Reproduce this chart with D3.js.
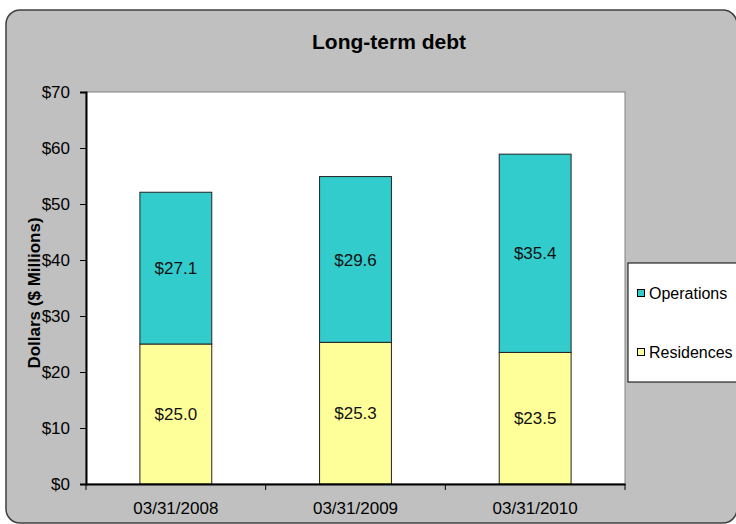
<!DOCTYPE html>
<html>
<head>
<meta charset="utf-8">
<script src="https://cdn.jsdelivr.net/npm/d3@7"></script>
<style>
  body { margin: 0; background: #fff; }
  svg { display: block; font-family: "Liberation Sans", Arial, sans-serif; }
</style>
</head>
<body>
<div id="chart"></div>
<script>
const dates = ["03/31/2008", "03/31/2009", "03/31/2010"];
const residences = [25.0, 25.3, 23.5];
const operations = [27.1, 29.6, 35.4];
const seriesNames = ["Residences", "Operations"];
const yTicks = [0, 10, 20, 30, 40, 50, 60, 70];

const width = 736;
const height = 524;
const margin = { top: 92, right: 111, bottom: 40, left: 86 };
const colors = { Residences: "#FFFF99", Operations: "#33CCCC" };

const rows = dates.map((d, i) => ({ date: d, Residences: residences[i], Operations: operations[i] }));

const svg = d3.select("#chart").append("svg").attr("width", width).attr("height", height);

// outer frame
svg.append("rect")
  .attr("x", 6).attr("y", 10)
  .attr("width", 731).attr("height", 513)
  .attr("rx", 14)
  .attr("fill", "#C0C0C0")
  .attr("stroke", "#404040")
  .attr("stroke-width", 1.5);

svg.append("text")
  .attr("x", 389).attr("y", 49)
  .attr("text-anchor", "middle")
  .attr("font-size", 21)
  .attr("font-weight", "bold")
  .text("Long-term debt");

const x = d3.scaleBand()
  .domain(dates)
  .range([margin.left, width - margin.right])
  .paddingInner(0.6)
  .paddingOuter(0.3);

const y = d3.scaleLinear()
  .domain([0, 70])
  .range([height - margin.bottom, margin.top]);

// plot area
svg.append("rect")
  .attr("x", margin.left).attr("y", y(70))
  .attr("width", width - margin.right - margin.left)
  .attr("height", y(0) - y(70))
  .attr("fill", "#fff")
  .attr("stroke", "#808080")
  .attr("stroke-width", 1);

const stacked = d3.stack().keys(seriesNames)(rows);

svg.append("g")
  .selectAll("g")
  .data(stacked)
  .join("g")
  .attr("fill", (s) => colors[s.key])
  .selectAll("rect")
  .data((s) => s)
  .join("rect")
  .attr("x", (d) => x(d.data.date))
  .attr("y", (d) => y(d[1]))
  .attr("width", x.bandwidth())
  .attr("height", (d) => y(d[0]) - y(d[1]))
  .attr("stroke", "#222")
  .attr("stroke-width", 1);

// value labels
svg.append("g")
  .selectAll("g")
  .data(stacked)
  .join("g")
  .selectAll("text")
  .data((s) => s)
  .join("text")
  .attr("x", (d) => x(d.data.date) + x.bandwidth() / 2)
  .attr("y", (d) => (y(d[0]) + y(d[1])) / 2)
  .attr("dy", "0.36em")
  .attr("text-anchor", "middle")
  .attr("font-size", 17)
  .attr("fill", "#111")
  .text((d) => "$" + (d[1] - d[0]).toFixed(1));

const yAxis = (g) =>
  g.attr("transform", `translate(${margin.left},0)`)
    .call(d3.axisLeft(y).tickValues(yTicks).tickFormat((d) => "$" + d).tickSize(6).tickPadding(10))
    .call((g) => g.select(".domain").attr("stroke", "#000").attr("stroke-width", 2))
    .call((g) => g.selectAll(".tick line").attr("stroke", "#000"))
    .call((g) => g.selectAll(".tick text").attr("font-size", 17).attr("fill", "#000").attr("font-family", null));

const xAxis = (g) =>
  g.attr("transform", `translate(0,${height - margin.bottom})`)
    .call(d3.axisBottom(x).tickSize(0).tickPadding(18))
    .call((g) => g.select(".domain").attr("stroke", "#000").attr("stroke-width", 2))
    .call((g) => g.selectAll(".tick text").attr("font-size", 17).attr("fill", "#000").attr("font-family", null));

svg.append("g").call(yAxis);
svg.append("g").call(xAxis);

// category boundary ticks
const bounds = d3.range(dates.length + 1).map((i) => margin.left + i * x.step());
svg.append("g")
  .selectAll("line")
  .data(bounds)
  .join("line")
  .attr("x1", (d) => d).attr("x2", (d) => d)
  .attr("y1", y(0)).attr("y2", y(0) + 6)
  .attr("stroke", "#000");

svg.append("text")
  .attr("transform", `translate(40,293) rotate(-90)`)
  .attr("text-anchor", "middle")
  .attr("font-size", 17)
  .attr("font-weight", "bold")
  .text("Dollars ($ Millions)");

// legend
svg.append("rect")
  .attr("x", 628).attr("y", 263)
  .attr("width", 130).attr("height", 119)
  .attr("fill", "#fff")
  .attr("stroke", "#000")
  .attr("stroke-width", 1);

const legend = svg.append("g")
  .selectAll("g")
  .data(["Operations", "Residences"])
  .join("g")
  .attr("transform", (d, i) => `translate(637,${293 + i * 59})`);

legend.append("rect")
  .attr("x", 0.5).attr("y", -3.5)
  .attr("width", 7).attr("height", 7)
  .attr("fill", (d) => colors[d])
  .attr("stroke", "#000");

legend.append("text")
  .attr("x", 12).attr("y", 6)
  .attr("font-size", 16)
  .text((d) => d);
</script>
</body>
</html>
